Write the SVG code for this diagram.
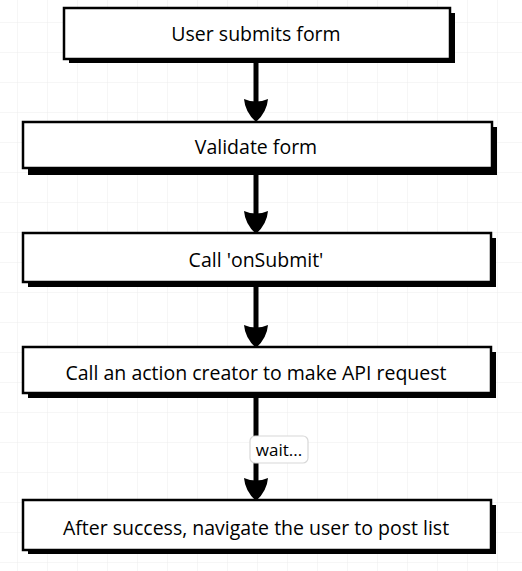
<svg xmlns="http://www.w3.org/2000/svg" width="522" height="571" viewBox="0 0 522 571">
<defs>
<pattern id="grid" width="30" height="30" patternUnits="userSpaceOnUse" x="18" y="23">
<path d="M30 0 V30 M0 30 H30" fill="none" stroke="#ececec" stroke-width="1"/>
</pattern>
<style>
.shadow{fill:#000}
.box{fill:#fff;stroke:#000;stroke-width:2.5}
.lbl{font-family:"Open Sans","Noto Sans",sans-serif;font-size:19.5px;fill:#000;text-anchor:middle}
.wait{font-family:"Open Sans","Noto Sans",sans-serif;font-size:17px;fill:#000;text-anchor:middle}
.line{stroke:#000;stroke-width:5;fill:none}
.head{fill:#000}
</style>
</defs>
<rect width="522" height="571" fill="#fff"/>
<rect width="522" height="571" fill="url(#grid)"/>
<g id="connectors">
<line class="line" x1="256" y1="60" x2="256" y2="108"/>
<path class="head" d="M244,99 Q256,104 268,99 Q267,112 256,122 Q245,112 244,99 Z"/>
<line class="line" x1="256" y1="170" x2="256" y2="220"/>
<path class="head" d="M244,211 Q256,216 268,211 Q267,224 256,234 Q245,224 244,211 Z"/>
<line class="line" x1="256" y1="283" x2="256" y2="334"/>
<path class="head" d="M244,325 Q256,330 268,325 Q267,338 256,348 Q245,338 244,325 Z"/>
<line class="line" x1="256" y1="395" x2="256" y2="487"/>
<path class="head" d="M244,478 Q256,483 268,478 Q267,491 256,501 Q245,491 244,478 Z"/>
<g id="wait-label">
<rect x="250" y="436" width="58" height="27" rx="5" fill="#fff" stroke="#d8d8d8" stroke-width="1.2"/>
<text class="wait" x="279" y="456">wait...</text>
</g>
</g>
<g id="n1">
<rect class="shadow" x="69" y="13" width="386" height="50"/>
<rect class="box" x="64" y="8" width="386" height="51"/>
<text class="lbl" x="256" y="41">User submits form</text>
</g>
<g id="n2">
<rect class="shadow" x="28" y="127" width="469" height="48"/>
<rect class="box" x="23" y="122" width="469" height="46"/>
<text class="lbl" x="256" y="154">Validate form</text>
</g>
<g id="n3">
<rect class="shadow" x="28" y="238" width="468" height="49"/>
<rect class="box" x="23" y="233" width="468" height="49"/>
<text class="lbl" x="256" y="267">Call 'onSubmit'</text>
</g>
<g id="n4">
<rect class="shadow" x="28" y="352" width="468" height="46"/>
<rect class="box" x="23" y="347" width="468" height="46"/>
<text class="lbl" x="256" y="380">Call an action creator to make API request</text>
</g>
<g id="n5">
<rect class="shadow" x="28" y="505" width="468" height="49"/>
<rect class="box" x="23" y="500" width="468" height="50"/>
<text class="lbl" x="256" y="535">After success, navigate the user to post list</text>
</g>
</svg>
